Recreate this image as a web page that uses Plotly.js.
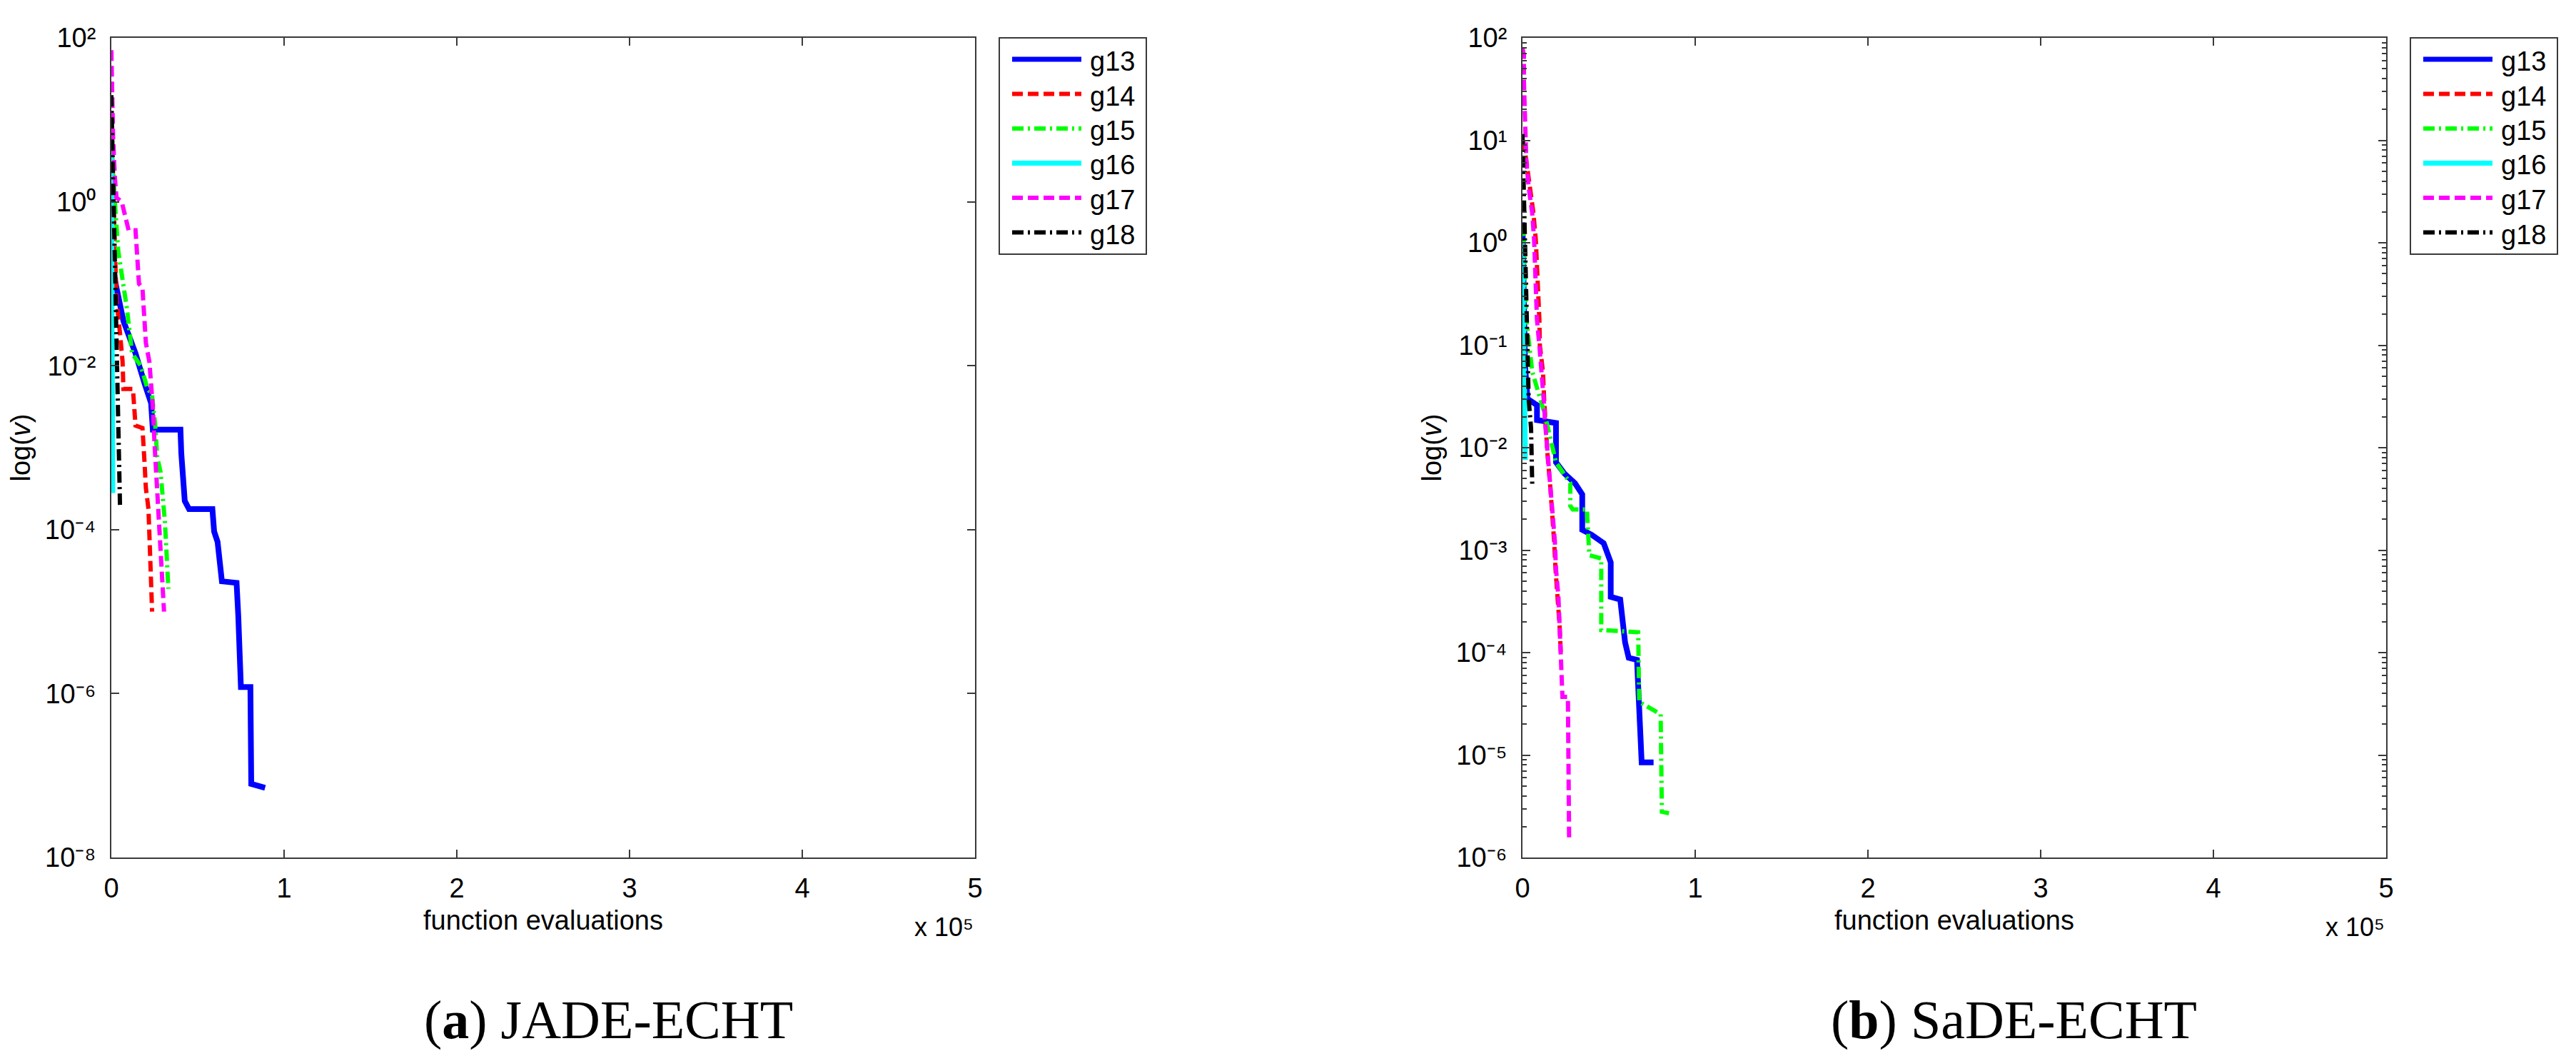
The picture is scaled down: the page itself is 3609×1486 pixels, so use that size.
<!DOCTYPE html>
<html>
<head>
<meta charset="utf-8">
<script src="https://cdn.plot.ly/plotly-3.0.1.min.js"></script>
<style>
html,body{margin:0;padding:0;background:#ffffff;}
#chart{width:3609px;height:1486px;}
</style>
</head>
<body>
<div id="chart"></div>
<script>
// ---------------- DATA ----------------
const seriesNames = ['g13', 'g14', 'g15', 'g16', 'g17', 'g18'];
const panelCaptions = ['(<b>a</b>) JADE-ECHT', '(<b>b</b>) SaDE-ECHT'];

const xTickVals = [0, 100000, 200000, 300000, 400000, 500000];
const xTickText = ['0', '1', '2', '3', '4', '5'];
const xScaleLabel = 'x 10\u2075';
const jadeYTickVals = [1e-8, 1e-6, 1e-4, 1e-2, 1, 100];
const jadeYTickText = ['10\u207B\u2078', '10\u207B\u2076', '10\u207B\u2074', '10\u207B\u00B2', '10\u2070', '10\u00B2'];
const sadeYTickVals = [1e-6, 1e-5, 1e-4, 1e-3, 1e-2, 1e-1, 1, 10, 100];
const sadeYTickText = ['10\u207B\u2076', '10\u207B\u2075', '10\u207B\u2074', '10\u207B\u00B3', '10\u207B\u00B2', '10\u207B\u00B9', '10\u2070', '10\u00B9', '10\u00B2'];
const minorMultipliers = [2, 3, 4, 5, 6, 7, 8, 9];

// JADE-ECHT (a)
const jade_g13_x = [0, 2000, 7000, 14000, 19000, 23000, 24000, 40000, 40500, 42500, 45000, 58500, 59500, 61500, 64000, 72500, 73500, 75000, 80500, 81000, 89000];
const jade_g13_y = [0.32, 0.112, 0.035, 0.0141, 6.3e-3, 3.5e-3, 1.66e-3, 1.66e-3, 8.5e-4, 2.24e-4, 1.78e-4, 1.78e-4, 9.5e-5, 7.1e-5, 2.34e-5, 2.24e-5, 8.7e-6, 1.2e-6, 1.2e-6, 7.9e-8, 7.1e-8];
const jade_g14_x = [0, 1500, 3000, 5000, 6500, 7000, 12500, 14000, 18000, 19000, 20000, 21500, 22500, 23500, 23600];
const jade_g14_y = [6.3, 0.63, 0.063, 0.025, 0.0112, 5.2e-3, 5.2e-3, 1.86e-3, 1.74e-3, 7.9e-4, 3.2e-4, 1.78e-4, 5e-5, 1.17e-5, 1e-5];
const jade_g15_x = [0, 1000, 2000, 4000, 6000, 9000, 12000, 17000, 21000, 23500, 25500, 26500, 28500, 30000, 31000, 32000, 33000];
const jade_g15_y = [6.3, 2.0, 1.0, 0.25, 0.126, 0.05, 0.0141, 0.01, 5.2e-3, 4.5e-3, 1.78e-3, 7.9e-4, 5e-4, 2.24e-4, 1.26e-4, 5e-5, 1.9e-5];
const jade_g16_x = [0, 200, 400, 600, 800];
const jade_g16_y = [5, 0.1, 0.01, 1e-3, 2.8e-4];
const jade_g17_x = [0, 500, 1000, 2000, 3000, 6000, 8000, 10000, 14000, 15000, 16000, 18000, 19000, 20000, 22000, 24000, 25000, 26000, 27000, 28000, 29000, 30000, 30500];
const jade_g17_y = [70.8, 15.8, 6.3, 2.0, 1.12, 1.0, 0.63, 0.45, 0.45, 0.25, 0.1, 0.089, 0.04, 0.019, 0.0112, 3.2e-3, 1.12e-3, 5e-4, 2e-4, 1e-4, 4e-5, 1.58e-5, 1e-5];
const jade_g18_x = [0, 500, 1000, 1500, 2000, 2500, 3000, 3500, 4000, 4500, 5000];
const jade_g18_y = [20, 6.3, 1.0, 0.2, 0.079, 0.0316, 0.0158, 5e-3, 1.58e-3, 6.3e-4, 2e-4];

// SaDE-ECHT (b)
const sade_g13_x = [0, 300, 1500, 2910, 8400, 8400, 19400, 19400, 24250, 30400, 34600, 34600, 40100, 47000, 51100, 51100, 56600, 59400, 61500, 66300, 68000, 69000, 75900];
const sade_g13_y = [1.58, 0.44, 0.063, 0.03, 0.026, 0.0186, 0.0174, 7.2e-3, 5.6e-3, 4.5e-3, 3.5e-3, 1.58e-3, 1.41e-3, 1.17e-3, 7.6e-4, 3.5e-4, 3.3e-4, 1.26e-4, 8.9e-5, 8.5e-5, 2.5e-5, 8.5e-6, 8.5e-6];
const sade_g14_x = [0, 1000, 2220, 4260, 6330, 7710, 8400, 9500, 9780, 10060, 11850, 12540, 13220, 14600, 15980, 17360, 18320, 19150, 20520, 21490, 22180];
const sade_g14_y = [10, 8.9, 6.3, 3.5, 1.95, 1.07, 0.59, 0.32, 0.178, 0.1, 0.055, 0.03, 0.0166, 8.1e-3, 4.4e-3, 2.3e-3, 1.23e-3, 6.5e-4, 3.5e-4, 1.82e-4, 1e-4];
const sade_g15_x = [0, 830, 1520, 2220, 5650, 12540, 19400, 27700, 27700, 29100, 37300, 38700, 45600, 45600, 67000, 67600, 69000, 80000, 80700, 84800];
const sade_g15_y = [1.5, 1.07, 0.32, 0.178, 0.055, 0.0224, 7.2e-3, 4.5e-3, 2.7e-3, 2.5e-3, 2.5e-3, 8.9e-4, 8.3e-4, 1.66e-4, 1.58e-4, 3.3e-5, 3.2e-5, 2.5e-5, 2.8e-6, 2.7e-6];
const sade_g16_x = [0, 500, 1500, 1600, 1700];
const sade_g16_y = [1.0, 0.2, 0.07, 0.02, 7.6e-3];
const sade_g17_x = [0, 830, 830, 1240, 1520, 2220, 3580, 5650, 6750, 7300, 7710, 8400, 9780, 11160, 12260, 13220, 14880, 15980, 17360, 18730, 19420, 20800, 21490, 22180, 23140, 26310, 27000];
const sade_g17_y = [79, 67.6, 37, 20.9, 11.5, 6.3, 3.5, 1.95, 1.07, 0.59, 0.32, 0.178, 0.1, 0.055, 0.03, 0.0166, 8.1e-3, 4.4e-3, 2.3e-3, 1.23e-3, 6.5e-4, 3.5e-4, 1.82e-4, 1.1e-4, 3.7e-5, 3.7e-5, 1.55e-6];
const sade_g18_x = [0, 830, 1520, 2220, 2910, 3580, 4960, 5650];
const sade_g18_y = [11.5, 3.5, 1.07, 0.32, 0.1, 0.03, 0.0155, 4.4e-3];

// ---------------- STYLE / LAYOUT ----------------
const W = 3609, H = 1486;
const PX = v => v / W;
const PY = v => 1 - v / H;
const AX_COLOR = '#3a3a3a';
const SANS = 'Liberation Sans, Arial, Helvetica, sans-serif';
const SERIF = 'Liberation Serif, Times New Roman, serif';
const FS = 38;

const lineStyles = [
  {color: '#0000ff', width: 8, dash: 'solid'},
  {color: '#ff0000', width: 6, dash: '15px,7px'},
  {color: '#00ff00', width: 6, dash: '16px,6px,3px,6px'},
  {color: '#00ffff', width: 7, dash: 'solid'},
  {color: '#ff00ff', width: 6, dash: '15px,7px'},
  {color: '#000000', width: 6, dash: '16px,6px,3px,6px'}
];

const panels = [
  {
    xa: 'x', ya: 'y', left: 156, right: 1366, dx: 0,
    xs: [jade_g13_x, jade_g14_x, jade_g15_x, jade_g16_x, jade_g17_x, jade_g18_x],
    ys: [jade_g13_y, jade_g14_y, jade_g15_y, jade_g16_y, jade_g17_y, jade_g18_y],
    yrange: [-8, 2], tickvals: jadeYTickVals, ticktext: jadeYTickText, minor: false,
    captionX: 852
  },
  {
    xa: 'x2', ya: 'y2', left: 2133, right: 3343, dx: 1977,
    xs: [sade_g13_x, sade_g14_x, sade_g15_x, sade_g16_x, sade_g17_x, sade_g18_x],
    ys: [sade_g13_y, sade_g14_y, sade_g15_y, sade_g16_y, sade_g17_y, sade_g18_y],
    yrange: [-6, 2], tickvals: sadeYTickVals, ticktext: sadeYTickText, minor: true,
    captionX: 2821
  }
];

const TOP = 53, BOTTOM = 1201;
const traces = [];
const shapes = [];
const annotations = [];
const layout = {
  width: W, height: H,
  margin: {l: 0, r: 0, t: 0, b: 0, pad: 0},
  paper_bgcolor: '#ffffff', plot_bgcolor: '#ffffff',
  showlegend: false,
  font: {family: SANS, size: FS, color: '#000000'}
};

panels.forEach((p, pi) => {
  p.xs.forEach((xv, i) => {
    traces.push({
      type: 'scatter', mode: 'lines',
      x: xv, y: p.ys[i],
      xaxis: p.xa, yaxis: p.ya,
      name: seriesNames[i],
      line: {color: lineStyles[i].color, width: lineStyles[i].width, dash: lineStyles[i].dash},
      hoverinfo: 'skip', showlegend: false
    });
  });

  const xKey = pi === 0 ? 'xaxis' : 'xaxis2';
  const yKey = pi === 0 ? 'yaxis' : 'yaxis2';
  layout[xKey] = {
    domain: [PX(p.left), PX(p.right)], anchor: p.ya,
    range: [0, 500000], tickmode: 'array', tickvals: xTickVals, ticktext: xTickText,
    ticks: 'inside', ticklen: 11, tickwidth: 2, tickcolor: AX_COLOR,
    showline: true, linecolor: AX_COLOR, linewidth: 2, mirror: 'allticks',
    showgrid: false, zeroline: false, ticklabelstandoff: 8,
    tickfont: {family: SANS, size: FS, color: '#000000'},
    title: {text: 'function evaluations', font: {family: SANS, size: FS, color: '#000000'}, standoff: 12},
    fixedrange: true
  };
  const yAx = {
    domain: [PY(BOTTOM), PY(TOP)], anchor: p.xa,
    type: 'log', range: p.yrange, tickmode: 'array', tickvals: p.tickvals, ticktext: p.ticktext,
    ticks: 'inside', ticklen: 11, tickwidth: 2, tickcolor: AX_COLOR,
    showline: true, linecolor: AX_COLOR, linewidth: 2, mirror: 'allticks',
    showgrid: false, zeroline: false, ticklabelstandoff: 12,
    tickfont: {family: SANS, size: FS, color: '#000000'},
    title: {text: 'log(<i>v</i>)', font: {family: SANS, size: FS, color: '#000000'}, standoff: 8},
    fixedrange: true
  };
  if (p.minor) {
    const mv = [];
    p.tickvals.slice(0, -1).forEach(d => minorMultipliers.forEach(m => mv.push(d * m)));
    yAx.minor = {tickmode: 'array', tickvals: mv, ticks: 'inside', ticklen: 6, tickwidth: 2, tickcolor: AX_COLOR, showgrid: false};
  }
  layout[yKey] = yAx;

  // exponent multiplier
  annotations.push({
    xref: 'paper', yref: 'paper', x: PX(p.right), y: PY(1298),
    xanchor: 'right', yanchor: 'middle', showarrow: false,
    text: xScaleLabel, font: {family: SANS, size: 36, color: '#000000'}
  });
  // caption
  annotations.push({
    xref: 'paper', yref: 'paper', x: PX(p.captionX), y: PY(1428),
    xanchor: 'center', yanchor: 'middle', showarrow: false,
    text: panelCaptions[pi], font: {family: SERIF, size: 76, color: '#000000'}
  });

  // legend box
  shapes.push({
    type: 'rect', xref: 'paper', yref: 'paper',
    x0: PX(1400 + p.dx), x1: PX(1606 + p.dx), y0: PY(356), y1: PY(53),
    line: {color: AX_COLOR, width: 2}, fillcolor: '#ffffff', layer: 'above'
  });
  seriesNames.forEach((nm, i) => {
    const yy = 83 + i * 48.5;
    shapes.push({
      type: 'line', xref: 'paper', yref: 'paper',
      x0: PX(1418 + p.dx), x1: PX(1515 + p.dx), y0: PY(yy), y1: PY(yy),
      line: {color: lineStyles[i].color, width: Math.min(lineStyles[i].width, 7), dash: lineStyles[i].dash},
      layer: 'above'
    });
    annotations.push({
      xref: 'paper', yref: 'paper', x: PX(1525 + p.dx), y: PY(yy + 3),
      xanchor: 'left', yanchor: 'middle', showarrow: false,
      text: nm, font: {family: SANS, size: FS, color: '#000000'}
    });
  });
});

layout.shapes = shapes;
layout.annotations = annotations;

Plotly.newPlot('chart', traces, layout, {staticPlot: true, displayModeBar: false});
</script>
</body>
</html>
